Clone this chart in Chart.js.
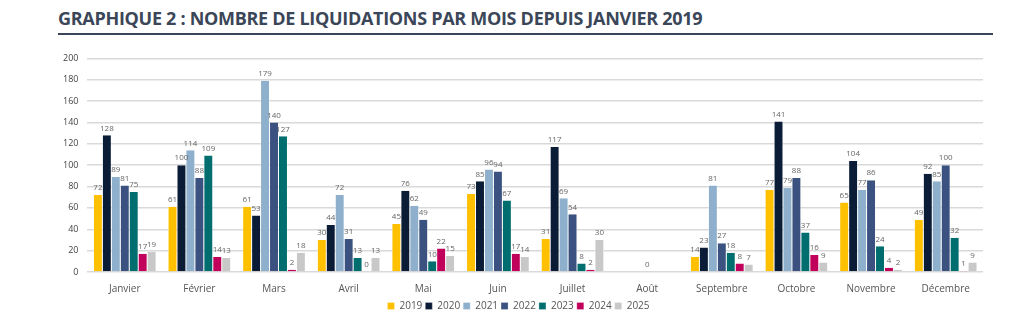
<!DOCTYPE html>
<html>
<head>
<meta charset="utf-8">
<script src="https://cdn.jsdelivr.net/npm/chart.js@4"></script>
<style>
  body { margin: 0; background: #fff; width: 1024px; height: 323px; overflow: hidden; font-family: "Open Sans", sans-serif; }
  #title { position: absolute; left: 58px; top: 6px; font-family: "Open Sans", sans-serif; font-weight: 700; font-size: 18px; color: #3b4658; letter-spacing: -0.3px; white-space: nowrap; }
  #rule { position: absolute; left: 58px; top: 33px; width: 935px; height: 2px; background: #3b4658; }
  #wrap { position: absolute; left: 54px; top: 44px; width: 936px; height: 277px; }
</style>
</head>
<body>
<div id="title">GRAPHIQUE 2 : NOMBRE DE LIQUIDATIONS PAR MOIS DEPUIS JANVIER 2019</div>
<div id="rule"></div>
<div id="wrap"><canvas id="liquidations"></canvas></div>
<script>
"use strict";
const months = ['Janvier', 'Février', 'Mars', 'Avril', 'Mai', 'Juin', 'Juillet', 'Août', 'Septembre', 'Octobre', 'Novembre', 'Décembre'];
const years = ['2019', '2020', '2021', '2022', '2023', '2024', '2025'];
const y2019 = [72, 61, 61, 30, 45, 73, 31, null, 14, 77, 65, 49];
const y2020 = [128, 100, 53, 44, 76, 85, 117, null, 23, 141, 104, 92];
const y2021 = [89, 114, 179, 72, 62, 96, 69, null, 81, 79, 77, 85];
const y2022 = [81, 88, 140, 31, 49, 94, 54, 0, 27, 88, 86, 100];
const y2023 = [75, 109, 127, 13, 10, 67, 8, null, 18, 37, 24, 32];
const y2024 = [17, 14, 2, 0, 22, 17, 2, null, 8, 16, 4, 1];
const y2025 = [19, 13, 18, 13, 15, 14, 30, null, 7, 9, 2, 9];
const colours = ['#ffc000', '#0b1d36', '#8eb0cc', '#3b5280', '#006d6f', '#c0005a', '#c8c8c8'];

const series = [y2019, y2020, y2021, y2022, y2023, y2024, y2025];

// little plugin to write the values above the bars
const valueLabels = {
  id: 'valueLabels',
  afterDatasetsDraw(chart) {
    const ctx = chart.ctx;
    ctx.save();
    ctx.font = '8px "Open Sans"';
    ctx.fillStyle = '#666';
    ctx.textAlign = 'center';
    ctx.textBaseline = 'bottom';
    chart.data.datasets.forEach((ds, i) => {
      chart.getDatasetMeta(i).data.forEach((bar, j) => {
        const v = ds.data[j];
        if (v === null) return;
        ctx.fillText(v, bar.x, bar.y - 3);
      });
    });
    ctx.restore();
  }
};

const data = {
  labels: months,
  datasets: series.map((s, i) => ({
    label: years[i],
    data: s,
    backgroundColor: colours[i],
    borderColor: '#fff',
    borderWidth: { left: 0.5, right: 0.5, top: 0, bottom: 0 },
    borderSkipped: false,
    barPercentage: 1,
    categoryPercentage: 0.84,
  })),
};

var ctx = document.getElementById('liquidations').getContext('2d');
var myChart = new Chart(ctx, {
  type: 'bar',
  data: data,
  plugins: [valueLabels],
  options: {
    responsive: true,
    maintainAspectRatio: false,
    animation: false,
    layout: { padding: { top: 5, right: 7, left: 0, bottom: 0 } },
    scales: {
      x: {
        grid: { display: false },
        border: { display: false },
        ticks: { color: '#555', font: { family: 'Open Sans', size: 10 }, padding: 3 },
      },
      y: {
        min: 0,
        max: 200,
        ticks: { stepSize: 20, color: '#444', font: { family: 'Open Sans', size: 9 }, padding: 9 },
        grid: { color: '#d9d9d9', lineWidth: 1.5, drawTicks: false },
        border: { display: false },
      }
    },
    plugins: {
      legend: {
        position: 'bottom',
        labels: { boxWidth: 7, boxHeight: 7, padding: 3, color: '#555', font: { family: 'Open Sans', size: 10 } },
      },
      tooltip: { enabled: false }
    },
  },
});
</script>
</body>
</html>
